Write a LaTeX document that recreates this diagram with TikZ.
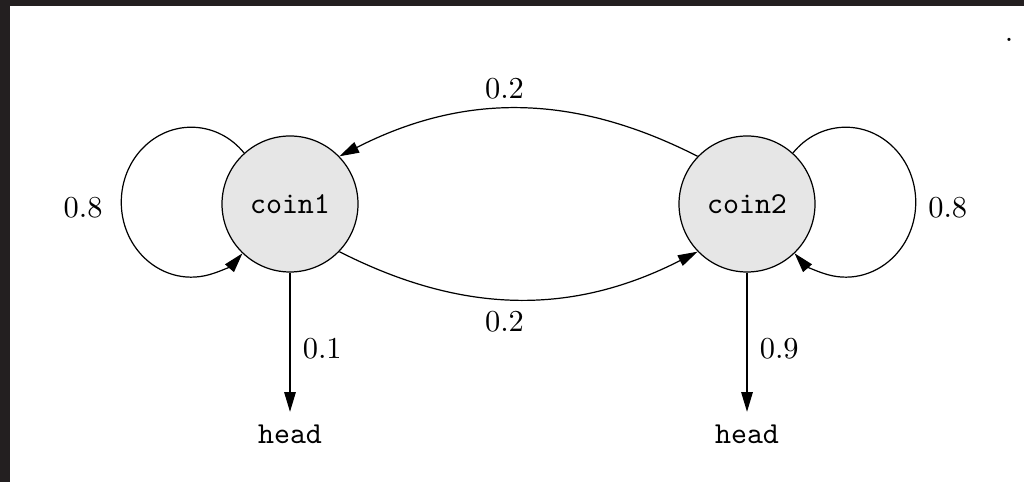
\documentclass[tikz,border=0pt]{standalone}
\usetikzlibrary{arrows.meta}
\definecolor{framedark}{HTML}{231F20}
\definecolor{coinfill}{HTML}{E6E6E6}

\begin{document}
\begin{tikzpicture}[
  x=0.01155cm, y=-0.01155cm,
  >={Triangle[length=6.5pt, width=3.8pt]},
  every path/.style={line width=0.4pt},
  state/.style={circle, fill=coinfill, draw=black, inner sep=0pt, minimum size=1.571cm, font=\ttfamily},
  outcome/.style={inner sep=4pt, font=\ttfamily},
  prob/.style={inner sep=1pt},
  selfloop/.style={x radius=0.8085cm, y radius=0.866cm}
]
  \useasboundingbox (0,0) rectangle (1024,482);

  % marco oscuro arriba y a la izquierda
  \fill[framedark] (0,0) rectangle (1024,6);
  \fill[framedark] (0,0) rectangle (10,482);
  \node[inner sep=0pt] (stray) at (1009,40) {.};

  % estados
  \node[state] (c1) at (290,204) {coin1};
  \node[state] (c2) at (747,204) {coin2};
  \node[outcome] (h1) at (290,434) {head};
  \node[outcome] (h2) at (747,434) {head};

  % lazos
  \draw[->] (c1.132) arc[selfloop, start angle=41, end angle=317] node[prob, pos=0.52, left=5pt] {0.8};
  \draw[->] (c2.48) arc[selfloop, start angle=139, end angle=-137] node[prob, pos=0.52, right=3pt] {0.8};

  % transiciones entre monedas
  \draw[->] (c2.136) to[out=153, in=27] node[prob, pos=0.54, above=2pt] {0.2} (c1.44);
  \draw[->] (c1.-44) to[out=-27, in=207] node[prob, pos=0.46, below=3pt] {0.2} (c2.-136);

  % salidas
  \draw[->] (c1) -- node[prob, pos=0.55, right=3pt] {0.1} (h1);
  \draw[->] (c2) -- node[prob, pos=0.55, right=3pt] {0.9} (h2);
\end{tikzpicture}
\end{document}
